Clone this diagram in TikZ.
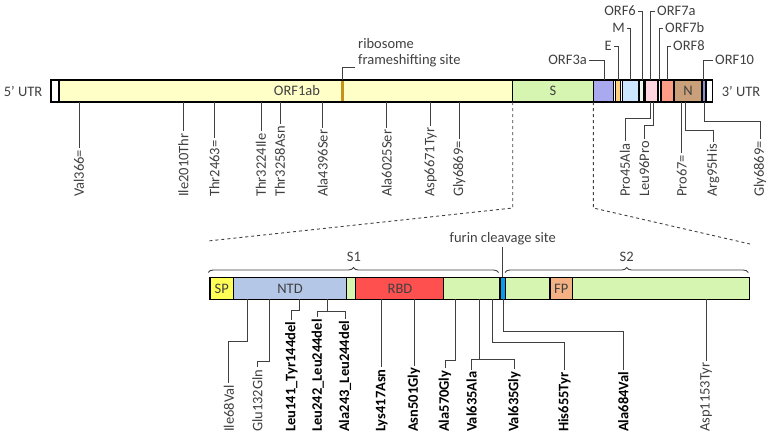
\documentclass[tikz,border=0pt]{standalone}
\usepackage{fontspec}
\setmainfont{Carlito}
\usetikzlibrary{decorations.pathreplacing}
\definecolor{txt}{HTML}{404040}
\definecolor{leadc}{HTML}{404040}
\definecolor{orfy}{HTML}{FFFFC8}
\definecolor{fsc}{HTML}{C8901C}
\definecolor{sgreen}{HTML}{D6F5B0}
\definecolor{c3a}{HTML}{A9A9F0}
\definecolor{cE}{HTML}{FFD080}
\definecolor{cM}{HTML}{CCE6FF}
\definecolor{c6}{HTML}{EEF7EA}
\definecolor{c7a}{HTML}{FFD6DE}
\definecolor{c8}{HTML}{FF9C85}
\definecolor{cN}{HTML}{C9A07A}
\definecolor{c10}{HTML}{8C8CD0}
\definecolor{cSP}{HTML}{FFFF55}
\definecolor{cNTD}{HTML}{B4C7E7}
\definecolor{cRBD}{HTML}{FF5050}
\definecolor{cfur}{HTML}{0A9BE8}
\definecolor{cFP}{HTML}{F4B183}
\begin{document}
\begin{tikzpicture}[x=1pt,y=-1pt,
  every node/.style={font=\fontsize{14.5}{17}\selectfont, text=txt, inner sep=2pt},
  bar/.style={draw=black, line width=1.3pt},
  lead/.style={draw=leadc, line width=0.9pt},
  vlab/.style={rotate=90, anchor=west, inner sep=2pt},
  blab/.style={vlab, font=\fontsize{14.5}{17}\selectfont\bfseries, text=black},
  dashline/.style={draw=leadc, dashed, line width=0.9pt},
  bracestyle/.style={draw=leadc, line width=0.9pt, decorate, decoration={brace, amplitude=5pt}}]
\useasboundingbox (0,0) rectangle (770,440);

% ---------------- top genome bar ----------------
\draw[bar, fill=white] (51,80) rectangle (712.3,102);
\draw[bar, fill=orfy] (59,80) rectangle (512.7,102);
\fill[fsc] (340.5,81) rectangle (343.5,101);
\draw[bar, fill=sgreen] (512.7,80) rectangle (593.3,102);
\draw[bar, fill=c3a] (593.3,80) rectangle (613.3,102);
\draw[bar, fill=cE] (615.7,80) rectangle (620.3,102);
\draw[bar, fill=cM] (622.3,80) rectangle (638.3,102);
\draw[bar, fill=c6] (639.3,80) rectangle (644,102);
\draw[bar, fill=c7a] (645.7,80) rectangle (657.3,102);
\draw[bar, fill=white] (658,80) rectangle (660.7,102);
\draw[bar, fill=c8] (661.7,80) rectangle (673.3,102);
\draw[bar, fill=cN] (674,80) rectangle (701.7,102);
\draw[bar, fill=c10] (702.7,80) rectangle (705.3,102);
\draw[bar, fill=white] (706,80) rectangle (712.3,102);

\node (l5utr) at (23,91) {5' UTR};
\node (l3utr) at (741,91) {3' UTR};
\node (lorf1ab) at (297,91) {ORF1ab};
\node (lS) at (553,91) {S};
\node (lN) at (688,91) {N};

% frameshifting site
\node[anchor=west, align=left, inner sep=0pt] (lfs) at (358,53) {ribosome\\[-1pt]frameshifting site};
\coordinate (pfs) at (342,80);
\draw[lead] (pfs) |- (355,67);

% top gene labels
\node[anchor=east] (lORF3a) at (589,60) {ORF3a};
\node[anchor=east] (lE) at (614,46) {E};
\node[anchor=east] (lM) at (627,28) {M};
\node[anchor=east] (lORF6) at (638,11) {ORF6};
\node[anchor=west] (lORF7a) at (655,11) {ORF7a};
\node[anchor=west] (lORF7b) at (663,28) {ORF7b};
\node[anchor=west] (lORF8) at (671,46) {ORF8};
\node[anchor=west] (lORF10) at (713,60) {ORF10};
\draw[lead] (604,80) |- (lORF3a.east);
\draw[lead] (618,80) |- (lE.east);
\draw[lead] (630.3,80) |- (lM.east);
\draw[lead] (642.3,80) |- (lORF6.east);
\draw[lead] (650.5,80) |- (lORF7a.west);
\draw[lead] (659.3,80) |- (lORF7b.west);
\draw[lead] (667,80) |- (lORF8.west);
\draw[lead] (703.9,80) |- (lORF10.west);

% top mutation labels
\node[vlab] (tV366) at (79,199) {Val366=};
\node[vlab] (tI2010) at (183.3,199) {Ile2010Thr};
\node[vlab] (tT2463) at (214.3,199) {Thr2463=};
\node[vlab] (tT3224) at (261,199) {Thr3224Ile};
\node[vlab] (tT3258) at (280,199) {Thr3258Asn};
\node[vlab] (tA4396) at (322.7,199) {Ala4396Ser};
\node[vlab] (tA6025) at (386.7,199) {Ala6025Ser};
\node[vlab] (tD6671) at (430.7,199) {Asp6671Tyr};
\node[vlab] (tG6869) at (459.3,199) {Gly6869=};
\node[vlab] (tP45) at (625,199) {Pro45Ala};
\node[vlab] (tL96) at (644.3,199) {Leu96Pro};
\node[vlab] (tP67) at (681.7,199) {Pro67=};
\node[vlab] (tR95) at (713,199) {Arg95His};
\node[vlab] (tG6869b) at (760,199) {Gly6869=};

\foreach \n/\x in {tV366/79, tI2010/183.3, tT2463/214.3, tT3224/261, tT3258/280, tA4396/322.7, tA6025/386.7, tD6671/430.7, tG6869/459.3, tP67/681.7}
  \draw[lead] (\x,102) -- (\n.east);
\draw[lead] (650,102) -- (650,118) -| (tP45.east);
\draw[lead] (653.3,102) -- (653.3,125) -| (tL96.east);
\draw[lead] (685.3,102) -- (685.3,130) -| (tR95.east);
\draw[lead] (704.1,102) -- (704.1,121.7) -| (tG6869b.east);

% zoom dashed lines
\coordinate (zl) at (208,241);
\coordinate (zr) at (750,244);
\draw[dashline] (512.7,102) -- (512.7,208) -- (zl);
\draw[dashline] (593.3,102) -- (593.3,208) -- (zr);

% ---------------- spike bar ----------------
\draw[bar, fill=sgreen] (210,277.3) rectangle (749.3,299.3);
\draw[bar, fill=cSP] (210,277.3) rectangle (233.3,299.3);
\draw[bar, fill=cNTD] (233.3,277.3) rectangle (346.7,299.3);
\draw[bar, fill=cRBD] (355.7,277.3) rectangle (443.3,299.3);
\draw[bar, fill=cfur] (500,277.3) rectangle (505.7,299.3);
\draw[bar, fill=cFP] (550,277.3) rectangle (572.7,299.3);
\node (lSP) at (221.7,289) {SP};
\node (lNTD) at (290,289) {NTD};
\node (lRBD) at (400,289) {RBD};
\node (lFP) at (561.3,289) {FP};

% braces
\draw[bracestyle] (208.3,272.5) -- (498.5,272.5);
\draw[bracestyle] (505,272.5) -- (748.3,272.5);
\node (lS1) at (354,257) {S1};
\node (lS2) at (626.7,257) {S2};

% furin
\node (lfurin) at (502.7,239) {furin cleavage site};
\draw[lead] (502.7,277.3) -- (lfurin.south);

% spike mutations
\node[vlab] (bI68) at (228.8,434) {Ile68Val};
\node[vlab] (bE132) at (257.3,434) {Glu132Gln};
\node[blab] (bL141) at (291.5,434) {Leu141\_Tyr144del};
\node[blab] (bL242) at (317.7,434) {Leu242\_Leu244del};
\node[blab] (bA243) at (345,434) {Ala243\_Leu244del};
\node[blab] (bK417) at (381.7,434) {Lys417Asn};
\node[blab] (bN501) at (414,434) {Asn501Gly};
\node[blab] (bA570) at (445,434) {Ala570Gly};
\node[blab] (bV635A) at (471.5,434) {Val635Ala};
\node[blab] (bV635G) at (514.3,434) {Val635Gly};
\node[blab] (bH655) at (564.3,434) {His655Tyr};
\node[blab] (bA684) at (623.3,434) {Ala684Val};
\node[vlab] (bD1153) at (706,434) {Asp1153Tyr};

\draw[lead] (247.3,299.3) -- (247.3,341.7) -| (bI68.east);
\draw[lead] (269,299.3) -- (269,361.7) -| (bE132.east);
\draw[lead] (299.3,299.3) -- (299.3,310) -| (bL141.east);
\draw[lead] (327.7,299.3) -- (327.7,311.7);
\draw[lead] (bL242.east) |- (327.7,311.7) -| (bA243.east);
\draw[lead] (381.7,299.3) -- (bK417.east);
\draw[lead] (414,299.3) -- (bN501.east);
\draw[lead] (455.7,299.3) -- (455.7,360) -| (bA570.east);
\draw[lead] (479.3,299.3) -- (479.3,359.3);
\draw[lead] (bV635A.east) |- (479.3,359.3) -| (bV635G.east);
\draw[lead] (492.7,299.3) -- (492.7,342.3) -| (bH655.east);
\draw[lead] (503.3,299.3) -- (503.3,331.7) -| (bA684.east);
\draw[lead] (706,299.3) -- (bD1153.east);
\end{tikzpicture}
\end{document}
